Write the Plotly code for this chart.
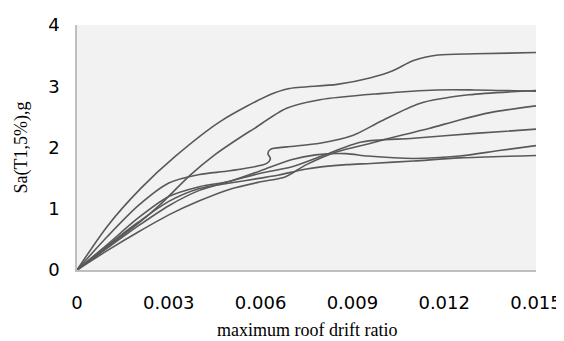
import plotly.graph_objects as go

# drift ratio / Sa values (7 curves)
a_x = [0, 0.001, 0.0021, 0.0032, 0.0047, 0.0063, 0.0069, 0.0085, 0.0096, 0.0103, 0.011, 0.0118, 0.013, 0.015]
a_y = [0, 0.72, 1.34, 1.85, 2.43, 2.86, 2.96, 3.03, 3.14, 3.25, 3.42, 3.51, 3.53, 3.55]

b_x = [0, 0.001, 0.002, 0.0027, 0.0037, 0.0045, 0.00544, 0.00576, 0.00685, 0.00794, 0.0099, 0.01175, 0.013, 0.015]
b_y = [0, 0.38, 0.76, 1.06, 1.55, 1.88, 2.20, 2.30, 2.64, 2.78, 2.88, 2.94, 2.94, 2.92]

c_x = [0, 0.001, 0.002, 0.003, 0.004, 0.005, 0.0062, 0.00632, 0.00624, 0.00632, 0.00685, 0.00794, 0.00903, 0.0099, 0.0112, 0.0128, 0.015]
c_y = [0, 0.55, 1.05, 1.42, 1.56, 1.62, 1.74, 1.82, 1.90, 1.97, 2.01, 2.07, 2.20, 2.42, 2.72, 2.86, 2.93]

e_x = [0, 0.001, 0.002, 0.003, 0.004, 0.005, 0.006, 0.0068, 0.0075, 0.0085, 0.0096, 0.0106, 0.0115, 0.0125, 0.0135, 0.015]
e_y = [0, 0.32, 0.62, 0.90, 1.13, 1.32, 1.44, 1.52, 1.72, 1.93, 2.07, 2.20, 2.31, 2.45, 2.57, 2.68]

f_x = [0, 0.001, 0.002, 0.003, 0.004, 0.005, 0.006, 0.007, 0.008, 0.0093, 0.011, 0.013, 0.015]
f_y = [0, 0.36, 0.72, 1.05, 1.30, 1.45, 1.58, 1.68, 1.86, 2.09, 2.15, 2.23, 2.30]

g_x = [0, 0.001, 0.002, 0.003, 0.004, 0.005, 0.006, 0.007, 0.0078, 0.0088, 0.0095, 0.011, 0.0125, 0.0138, 0.015]
g_y = [0, 0.42, 0.85, 1.20, 1.36, 1.45, 1.62, 1.80, 1.88, 1.90, 1.86, 1.82, 1.86, 1.95, 2.03]

h_x = [0, 0.001, 0.002, 0.003, 0.004, 0.005, 0.006, 0.0066, 0.0075, 0.0088, 0.0096, 0.011, 0.0125, 0.015]
h_y = [0, 0.40, 0.78, 1.12, 1.33, 1.42, 1.50, 1.55, 1.65, 1.72, 1.74, 1.78, 1.83, 1.87]

x_ticks = [0, 0.003, 0.006, 0.009, 0.012, 0.015]
x_tick_labels = ["0", "0.003", "0.006", "0.009", "0.012", "0.015"]
y_ticks = [0, 1, 2, 3, 4]

series = [(a_x, a_y), (b_x, b_y), (c_x, c_y), (e_x, e_y), (f_x, f_y), (g_x, g_y), (h_x, h_y)]

fig = go.Figure()
for xs, ys in series:
    fig.add_trace(go.Scatter(x=xs, y=ys, mode="lines",
                             line=dict(color="#595959", width=1.6, shape="spline", smoothing=0.8),
                             showlegend=False, hoverinfo="skip", cliponaxis=False))

tick_font = dict(family="DejaVu Sans", size=18, color="#000000")
fig.update_layout(
    width=556, height=333,
    margin=dict(l=69, r=28, t=17, b=71),
    paper_bgcolor="#FFFFFF", plot_bgcolor="#F2F2F2",
    xaxis=dict(range=[0, 0.015], tickvals=x_ticks, ticktext=x_tick_labels, automargin=False,
               showgrid=False, zeroline=False, showline=True, linecolor="#BFBFBF", linewidth=1.5,
               ticks="outside", ticklen=16, tickcolor="rgba(0,0,0,0)", tickfont=tick_font),
    yaxis=dict(range=[0, 4], tickvals=y_ticks, automargin=False,
               showgrid=False, zeroline=False, showline=True, linecolor="#BFBFBF", linewidth=1.5,
               ticks="outside", ticklen=12, tickcolor="rgba(0,0,0,0)", tickfont=tick_font),
    annotations=[
        dict(text="maximum roof drift ratio", x=0.5, y=0, xref="paper", yref="paper",
             xanchor="center", yanchor="top", yshift=-48, showarrow=False,
             font=dict(family="Liberation Serif", size=18, color="#000000")),
        dict(text="Sa(T1,5%),g", x=0, y=0.5, xref="paper", yref="paper",
             xanchor="center", yanchor="middle", xshift=-56, textangle=-90, showarrow=False,
             font=dict(family="Liberation Serif", size=18, color="#000000")),
    ],
)
fig.write_html("out.html")
